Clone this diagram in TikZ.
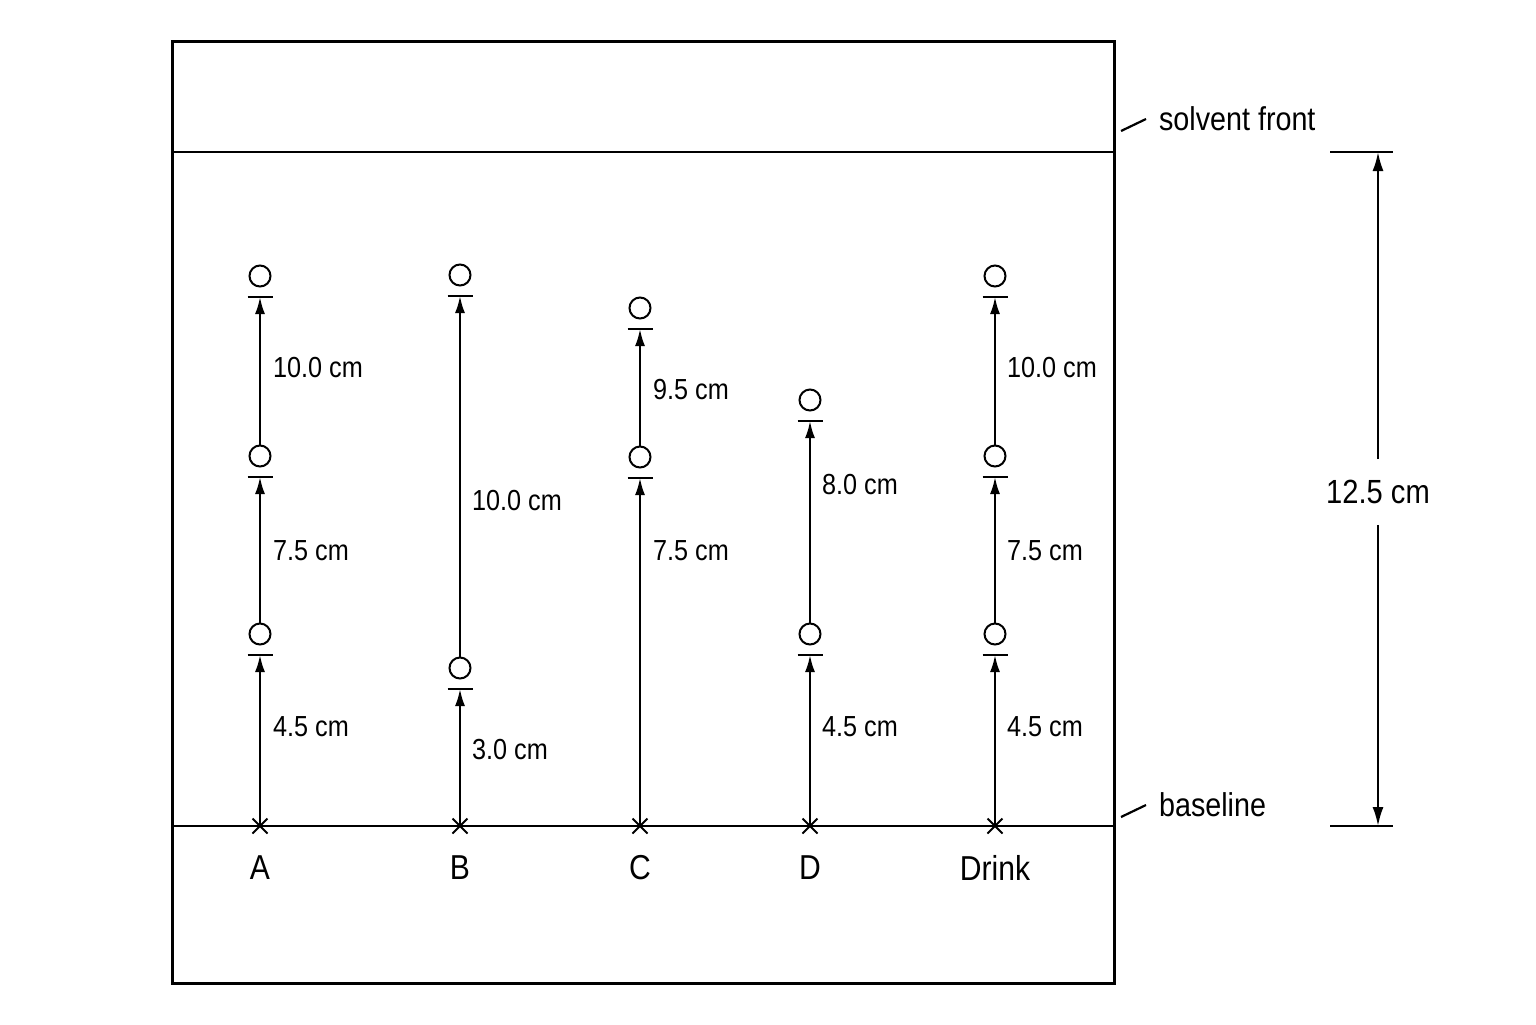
\documentclass[tikz,border=0pt]{standalone}
\usepackage{fontspec}
\setmainfont{Liberation Sans}[FakeStretch=0.87]
\usetikzlibrary{arrows.meta}
\usetikzlibrary{positioning}
\usetikzlibrary{shapes.misc}

\begin{document}
\begin{tikzpicture}[x=0.5pt, y=-0.5pt, line width=1.1pt,
	spot/.style={circle, draw, line width=1pt, minimum size=10.5pt, inner sep=0pt},
	start/.style={cross out, draw, line width=1pt, minimum size=6.5pt, inner sep=0pt},
	dist/.style={anchor=west, inner sep=0pt, font=\fontsize{14.5}{17}\selectfont},
	lane/.style={font=\fontsize{17.3}{20}\selectfont},
	side/.style={anchor=west, inner sep=0pt, font=\fontsize{16.5}{19}\selectfont},
	rise/.style={-{Latex[length=8.5pt, width=5pt]}}]
	\useasboundingbox (0,0) rectangle (1536,1024);
	% plate, solvent front and baseline
	\draw[line width=1.5pt] (172,41) rectangle (1114,983);
	\coordinate (fl) at (172,152);
	\coordinate (fr) at (1114,152);
	\coordinate (bl) at (172,826);
	\coordinate (br) at (1114,826);
	\draw[line width=1.3pt] (fl) -- (fr);
	\draw[line width=1.3pt] (bl) -- (br);
	% start points and lane names
	\foreach \x/\n/\t in {260/a/A, 460/b/B, 640/c/C, 810/d/D, 995/e/Drink} {
		\node[start] (x\n) at (\x,826) {};
		\node[lane] (l\n) at (\x,868) {\t};
	}
	% spots
	\node[spot] (a1) at (260,634) {};
	\node[spot] (a2) at (260,456) {};
	\node[spot] (a3) at (260,276) {};
	\node[spot] (b1) at (460,668) {};
	\node[spot] (b2) at (460,275) {};
	\node[spot] (c1) at (640,457) {};
	\node[spot] (c2) at (640,308) {};
	\node[spot] (d1) at (810,634) {};
	\node[spot] (d2) at (810,400) {};
	\node[spot] (e1) at (995,634) {};
	\node[spot] (e2) at (995,456) {};
	\node[spot] (e3) at (995,276) {};
	\foreach \s in {a1,a2,a3,b1,b2,c1,c2,d1,d2,e1,e2,e3} {
		\coordinate (\s t) at ([yshift=-10.5pt]\s.center);
		\draw ([xshift=-6.25pt]\s t) -- ([xshift=6.25pt]\s t);
	}
	% distances
	\draw[rise] (xa.center) -- (a1t);
	\draw[rise] (a1) -- (a2t);
	\draw[rise] (a2) -- (a3t);
	\draw[rise] (xb.center) -- (b1t);
	\draw[rise] (b1) -- (b2t);
	\draw[rise] (xc.center) -- (c1t);
	\draw[rise] (c1) -- (c2t);
	\draw[rise] (xd.center) -- (d1t);
	\draw[rise] (d1) -- (d2t);
	\draw[rise] (xe.center) -- (e1t);
	\draw[rise] (e1) -- (e2t);
	\draw[rise] (e2) -- (e3t);
	\node[dist] (da1) at (272,727) {4.5 cm};
	\node[dist] (da2) at (272,551) {7.5 cm};
	\node[dist] (da3) at (272,368) {10.0 cm};
	\node[dist] (db1) at (471,749) {3.0 cm};
	\node[dist] (db2) at (471,501) {10.0 cm};
	\node[dist] (dc1) at (652,551) {7.5 cm};
	\node[dist] (dc2) at (652,390) {9.5 cm};
	\node[dist] (dd1) at (821,727) {4.5 cm};
	\node[dist] (dd2) at (821,485) {8.0 cm};
	\node[dist] (de1) at (1006,727) {4.5 cm};
	\node[dist] (de2) at (1006,551) {7.5 cm};
	\node[dist] (de3) at (1006,368) {10.0 cm};
	% side labels
	\node[side] (sf) at (1158,119) {solvent front};
	\node[side] (sb) at (1158,805) {baseline};
	\coordinate (sfl) at (1121,131);
	\coordinate (sbl) at (1121,817);
	\draw (sfl) -- ([xshift=-6pt]sf.west);
	\draw (sbl) -- ([xshift=-6pt]sb.west);
	% total run
	\coordinate (tt) at (1378,152);
	\coordinate (tb) at (1378,826);
	\draw ([xshift=-24pt]tt) -- ([xshift=7.5pt]tt);
	\draw ([xshift=-24pt]tb) -- ([xshift=7.5pt]tb);
	\node[inner xsep=2pt, inner ysep=10pt, font=\fontsize{16.75}{20}\selectfont] (run) at (1378,492) {12.5 cm};
	\draw[-{Latex[length=9.5pt, width=5.5pt]}] (run) -- (tt);
	\draw[-{Latex[length=9.5pt, width=5.5pt]}] (run) -- (tb);
\end{tikzpicture}
\end{document}
